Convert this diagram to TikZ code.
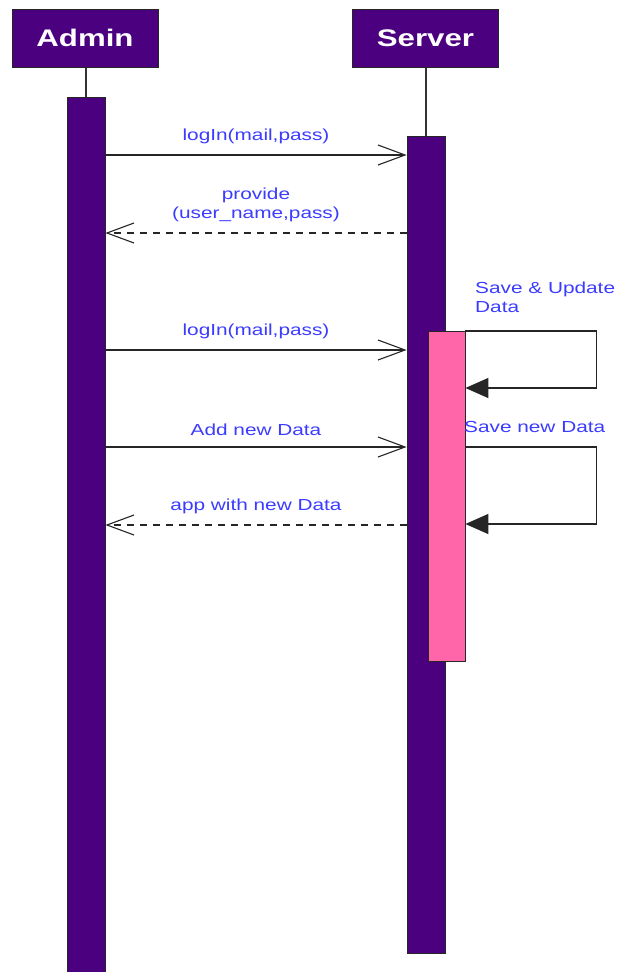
\documentclass[tikz,border=0pt]{standalone}
\usepackage{fontspec}
\usepackage{tikz}
\usetikzlibrary{arrows.meta,calc,positioning}
\newfontfamily\diagfont[FakeStretch=1.3]{Liberation Sans}
\definecolor{LifePurple}{RGB}{75,0,128}
\definecolor{ActPink}{RGB}{255,102,170}
\definecolor{MsgBlue}{RGB}{60,60,255}

\begin{document}
\begin{tikzpicture}[x=1pt,y=-1pt,
    head/.style={draw=black!85,line width=1pt,fill=LifePurple,text=white,
      font=\diagfont\fontsize{24}{28}\selectfont\bfseries,
      minimum width=146pt,minimum height=58pt,inner sep=0pt},
    bar/.style={draw=black!85,line width=0.8pt,fill=LifePurple,
      minimum width=38pt,inner sep=0pt,anchor=north},
    life/.style={draw=black!80,line width=1.3pt},
    msglabel/.style={text=MsgBlue,font=\diagfont\fontsize{16}{19}\selectfont,inner sep=1pt},
    msg/.style={draw=black!85,line width=1.3pt,
      -{Straight Barb[length=27pt,width=20pt,line width=1.1pt]}},
    reply/.style={msg,dash pattern=on 7pt off 6pt},
    self/.style={draw=black!85,line width=1.3pt,-{Triangle[length=23pt,width=20pt]}}]
      \fill[white] (0,0) rectangle (621,972);
      \useasboundingbox (0,0) rectangle (621,972);
      % lifeline heads
      \node[head] (admin) at (85,38) {Admin};
      \node[head] (server) at (425.5,38) {Server};
      % activation bars
      \node[bar,minimum height=890pt] (adminbar) at (86,97) {};
      \node[bar,minimum height=817pt] (serverbar) at (426,136) {};
      \node[bar,fill=ActPink,minimum width=37pt,minimum height=330pt] (pinkbar) at (446.5,331) {};
      \draw[life] (adminbar.north |- admin.south) -- (adminbar.north);
      \draw[life] (serverbar.north |- server.south) -- (serverbar.north);
      % calls
      \foreach \y/\txt in {155/{logIn(mail,pass)},350/{logIn(mail,pass)},447/{Add new Data}}{
        \draw[msg] (adminbar.east |- 0,\y) -- (serverbar.west |- 0,\y)
          node[msglabel,midway,above=10pt]{\txt};
      }
      % replies
      \draw[reply] (serverbar.west |- 0,233) -- (adminbar.east |- 0,233)
        node[msglabel,midway,above=10pt,align=center]{provide\\(user\_name,pass)};
      \draw[reply] (serverbar.west |- 0,525) -- (adminbar.east |- 0,525)
        node[msglabel,midway,above=10pt]{app with new Data};
      % self calls
      \draw[self] (pinkbar.north east) -- ++(131,0) |- (pinkbar.east |- 0,388);
      \draw[self] (pinkbar.east |- 0,447) -- ++(131,0) |- (pinkbar.east |- 0,524);
      \node[msglabel,anchor=north west,align=left] (savelbl) at (474,281) {Save \& Update\\Data};
      \node[msglabel,anchor=west] (newlbl) at (463,427) {Save new Data};
    \end{tikzpicture}
\end{document}
